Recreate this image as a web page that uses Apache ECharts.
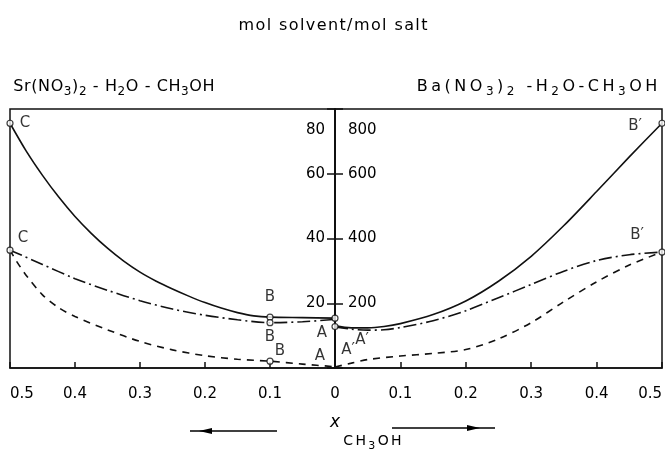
<!DOCTYPE html>
<html><head><meta charset="utf-8">
<script src="https://cdn.jsdelivr.net/npm/echarts@6/dist/echarts.min.js"></script>
<style>html,body{margin:0;padding:0;background:#fff}#c{width:665px;height:451px}</style>
</head><body><div id="c"></div>
<script>
// ---- Data: Sr(NO3)2 - H2O - CH3OH (left panel, mol solvent / mol salt, 0..80) ----
const srSolidX = [0.5, 0.475, 0.45, 0.425, 0.4, 0.375, 0.35, 0.325, 0.3, 0.275, 0.25, 0.225, 0.2, 0.175, 0.15, 0.125, 0.1, 0.05, 0];
const srSolidY = [75.6, 67.0, 59.5, 52.8, 46.8, 41.6, 37.0, 33.0, 29.6, 26.8, 24.4, 22.2, 20.2, 18.5, 17.1, 16.1, 15.7, 15.55, 15.4];
const srDashDotX = [0.5, 0.45, 0.4, 0.35, 0.3, 0.25, 0.2, 0.15, 0.1, 0.05, 0];
const srDashDotY = [36.4, 32.0, 27.6, 24.0, 20.8, 18.2, 16.3, 14.9, 14.0, 14.3, 15.0];
const srDashX = [0.5, 0.49, 0.475, 0.45, 0.425, 0.4, 0.35, 0.3, 0.25, 0.2, 0.15, 0.1, 0.05, 0];
const srDashY = [36.4, 33.0, 28.6, 22.6, 18.6, 15.9, 11.8, 8.2, 5.6, 3.8, 2.7, 2.1, 1.2, 0.4];
// ---- Data: Ba(NO3)2 - H2O - CH3OH (right panel, 0..800) ----
const baSolidX = [0, 0.025, 0.05, 0.075, 0.1, 0.15, 0.2, 0.25, 0.3, 0.35, 0.4, 0.45, 0.5];
const baSolidY = [130, 124, 124, 128, 137, 165, 207, 268, 345, 440, 545, 652, 756];
const baDashDotX = [0, 0.025, 0.05, 0.075, 0.1, 0.15, 0.2, 0.25, 0.3, 0.35, 0.4, 0.45, 0.5];
const baDashDotY = [127, 120, 117, 118, 125, 146, 177, 217, 258, 299, 332, 350, 358];
const baDashX = [0, 0.025, 0.05, 0.1, 0.15, 0.2, 0.25, 0.3, 0.35, 0.4, 0.45, 0.5];
const baDashY = [3, 15, 26, 37, 45, 57, 90, 140, 205, 266, 318, 358];
// ---- Marked points ----
const srMarkX = [0.5, 0.5, 0.1, 0.1, 0.1, 0];
const srMarkY = [75.6, 36.4, 15.7, 14.0, 2.1, 15.4];
const baMarkX = [0.5, 0.5, 0];
const baMarkY = [756, 358, 128];
const srLabelText = ['C', 'C', 'B', 'B', 'B', 'A', 'A'];
const srLabelX = [0.5, 0.5, 0.1, 0.1, 0.1, 0, 0];
const srLabelY = [75.6, 36.4, 15.7, 14.0, 2.1, 15.4, 0.4];
const baLabelText = ['B\u2032', 'B\u2032', 'A\u2032', 'A\u2032'];
const baLabelX = [0.5, 0.5, 0.043, 0];
const baLabelY = [756, 358, 117, 3];
// ---- Axis ticks ----
const xTicks = [0, 0.1, 0.2, 0.3, 0.4, 0.5];
const srTicks = [0, 20, 40, 60, 80];
const baTicks = [0, 200, 400, 600, 800];

const FONT = 'DejaVu Sans';
const pair = (xs, ys) => xs.map((x, i) => [x, ys[i]]);

// label offsets (styling, kept apart from data)
const srLabelOffsets = [[15, 0], [13, -12], [0, -20], [0, 14], [10, -10], [-13, 15], [-15, -11]];
const baLabelOffsets = [[-27, 3], [-25, -17], [-1, 10], [13, -17]];

function spaced(segs) {
  let s = '';
  segs.forEach(([t, sub]) => {
    for (const ch of t) s += '{' + (sub ? 's' : 'n') + '|' + ch + '}';
  });
  return s;
}
function richStyle(size, subSize, pad) {
  return {
    n: { fontSize: size, fontFamily: FONT, fill: '#000', color: '#000', padding: [0, pad, 0, pad] },
    s: { fontSize: subSize, fontFamily: FONT, fill: '#000', color: '#000', padding: [10, pad, 0, pad] }
  };
}

const lineBase = { type: 'line', showSymbol: false, symbol: 'none', smooth: 0.3, silent: true, z: 3 };
const black = '#111';

const chart = echarts.init(document.getElementById('c'), null, { renderer: 'canvas' });
chart.setOption({
  animation: false,
  backgroundColor: '#fff',
  grid: [
    { left: 10, top: 109, width: 325, height: 259, show: true, borderColor: black, borderWidth: 1.5, backgroundColor: 'transparent' },
    { left: 335, top: 109, width: 327, height: 259, show: true, borderColor: black, borderWidth: 1.5, backgroundColor: 'transparent' }
  ],
  xAxis: [
    { gridIndex: 0, type: 'value', min: xTicks[0], max: xTicks[xTicks.length - 1], interval: 0.1, inverse: true,
      axisLine: { show: true, lineStyle: { color: black, width: 1.5 } },
      axisTick: { show: true, inside: true, length: 6, lineStyle: { color: black, width: 1.5 } },
      splitLine: { show: false },
      axisLabel: { margin: 19, fontSize: 15, fontFamily: FONT, color: '#000', alignMaxLabel: 'left',
        formatter: v => (v === 0 ? '' : v.toFixed(1)) } },
    { gridIndex: 1, type: 'value', min: xTicks[0], max: xTicks[xTicks.length - 1], interval: 0.1,
      axisLine: { show: true, lineStyle: { color: black, width: 1.5 } },
      axisTick: { show: true, inside: true, length: 6, lineStyle: { color: black, width: 1.5 } },
      splitLine: { show: false },
      axisLabel: { margin: 19, fontSize: 15, fontFamily: FONT, color: '#000', alignMaxLabel: 'right',
        formatter: v => (v === 0 ? '0' : v.toFixed(1)) } }
  ],
  yAxis: [
    { gridIndex: 0, type: 'value', position: 'right', min: srTicks[0], max: srTicks[srTicks.length - 1], interval: 20,
      axisLine: { show: true, lineStyle: { color: black, width: 1.5 } },
      axisTick: { show: true, inside: true, length: 8, lineStyle: { color: black, width: 1.5 } },
      splitLine: { show: false },
      axisLabel: { inside: true, margin: 10, fontSize: 15, fontFamily: FONT, color: '#000',
        formatter: v => (v === 0 ? '' : (v === 80 ? '{t|80}' : String(v))),
        rich: { t: { fontSize: 15, fontFamily: FONT, color: '#000', padding: [42, 0, 0, 0] } } } },
    { gridIndex: 1, type: 'value', position: 'left', min: baTicks[0], max: baTicks[baTicks.length - 1], interval: 200,
      axisLine: { show: true, lineStyle: { color: black, width: 1.5 } },
      axisTick: { show: true, inside: true, length: 8, lineStyle: { color: black, width: 1.5 } },
      splitLine: { show: false },
      axisLabel: { inside: true, margin: 13, fontSize: 15, fontFamily: FONT, color: '#000',
        formatter: v => (v === 0 ? '' : (v === 800 ? '{t|800}' : String(v))),
        rich: { t: { fontSize: 15, fontFamily: FONT, color: '#000', padding: [42, 0, 0, 0] } } } }
  ],
  series: [
    Object.assign({}, lineBase, { name: 'Sr solid', xAxisIndex: 0, yAxisIndex: 0, data: pair(srSolidX, srSolidY),
      lineStyle: { color: black, width: 1.6, type: 'solid' } }),
    Object.assign({}, lineBase, { name: 'Sr dash-dot', xAxisIndex: 0, yAxisIndex: 0, data: pair(srDashDotX, srDashDotY),
      lineStyle: { color: black, width: 1.6, type: [13, 4, 2, 4] } }),
    Object.assign({}, lineBase, { name: 'Sr dashed', xAxisIndex: 0, yAxisIndex: 0, data: pair(srDashX, srDashY),
      lineStyle: { color: black, width: 1.6, type: [7, 6] } }),
    Object.assign({}, lineBase, { name: 'Ba solid', xAxisIndex: 1, yAxisIndex: 1, data: pair(baSolidX, baSolidY),
      lineStyle: { color: black, width: 1.6, type: 'solid' } }),
    Object.assign({}, lineBase, { name: 'Ba dash-dot', xAxisIndex: 1, yAxisIndex: 1, data: pair(baDashDotX, baDashDotY),
      lineStyle: { color: black, width: 1.6, type: [13, 4, 2, 4] } }),
    Object.assign({}, lineBase, { name: 'Ba dashed', xAxisIndex: 1, yAxisIndex: 1, data: pair(baDashX, baDashY),
      lineStyle: { color: black, width: 1.6, type: [7, 6] } }),
    { type: 'scatter', xAxisIndex: 0, yAxisIndex: 0, data: pair(srMarkX, srMarkY), symbol: 'circle', symbolSize: 6,
      itemStyle: { color: '#fff', borderColor: black, borderWidth: 1.2 }, z: 5, silent: true },
    { type: 'scatter', xAxisIndex: 1, yAxisIndex: 1, data: pair(baMarkX, baMarkY), symbol: 'circle', symbolSize: 6,
      itemStyle: { color: '#fff', borderColor: black, borderWidth: 1.2 }, z: 5, silent: true },
    { type: 'scatter', xAxisIndex: 0, yAxisIndex: 0, symbol: 'circle', symbolSize: 1, z: 6, silent: true,
      itemStyle: { color: 'rgba(0,0,0,0)' },
      data: srLabelText.map((t, i) => ({ value: [srLabelX[i], srLabelY[i]], name: t,
        label: { show: true, position: 'inside', offset: srLabelOffsets[i], formatter: t,
          fontSize: 15, fontFamily: FONT, color: '#000' } })) },
    { type: 'scatter', xAxisIndex: 1, yAxisIndex: 1, symbol: 'circle', symbolSize: 1, z: 6, silent: true,
      itemStyle: { color: 'rgba(0,0,0,0)' },
      data: baLabelText.map((t, i) => ({ value: [baLabelX[i], baLabelY[i]], name: t,
        label: { show: true, position: 'inside', offset: baLabelOffsets[i], formatter: t,
          fontSize: 15, fontFamily: FONT, color: '#000' } })) }
  ],
  graphic: [
    { type: 'text', x: 333, y: 26, style: { text: spaced([['mol solvent/mol salt', false]]), rich: richStyle(16, 12, 0.7),
      textAlign: 'center', textVerticalAlign: 'middle', fill: '#000' } },
    { type: 'text', x: 13, y: 87, style: { text: spaced([['Sr(NO', false], ['3', true], [')', false], ['2', true], [' - H', false], ['2', true], ['O - CH', false], ['3', true], ['OH', false]]),
      rich: richStyle(16, 12, 0.3), textAlign: 'left', textVerticalAlign: 'middle', fill: '#000' } },
    { type: 'text', x: 659, y: 87, style: { text: spaced([['Ba(NO', false], ['3', true], [')', false], ['2', true], [' -H', false], ['2', true], ['O-CH', false], ['3', true], ['OH', false]]),
      rich: richStyle(16, 12, 1.75), textAlign: 'right', textVerticalAlign: 'middle', fill: '#000' } },
    // bottom axis caption
    { type: 'text', x: 335, y: 423, style: { text: 'x', font: 'italic 17px ' + FONT, textAlign: 'center', textVerticalAlign: 'middle', fill: '#000' } },
    { type: 'text', x: 342, y: 441, style: { text: spaced([['CH', false], ['3', true], ['OH', false]]), rich: richStyle(14, 11, 1.2),
      textAlign: 'left', textVerticalAlign: 'middle', fill: '#000' } },
    // arrows
    { type: 'line', shape: { x1: 190, y1: 431, x2: 277, y2: 431 }, style: { stroke: '#000', lineWidth: 1.5 } },
    { type: 'polygon', shape: { points: [[199, 431], [212, 428], [212, 434]] }, style: { fill: '#000' } },
    { type: 'line', shape: { x1: 392, y1: 428, x2: 495, y2: 428 }, style: { stroke: '#000', lineWidth: 1.5 } },
    { type: 'polygon', shape: { points: [[480, 428], [467, 425], [467, 431]] }, style: { fill: '#000' } }
  ]
});
</script></body></html>
